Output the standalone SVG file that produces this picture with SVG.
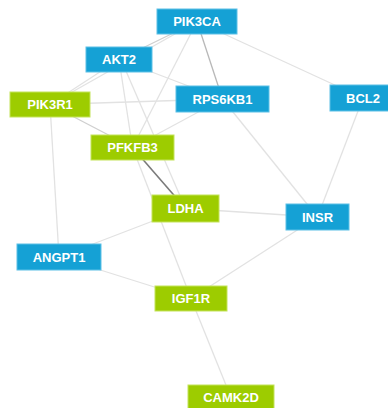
<svg xmlns="http://www.w3.org/2000/svg" width="388" height="408" viewBox="0 0 388 408">
  <style>
    .edge { stroke: #e2e2e2; stroke-width: 1.3; fill: none; }
    .edge.mid { stroke: #cfcfcf; }
    .edge.strong { stroke: #b8b8b8; }
    .edge.dark { stroke: #7a7a7a; stroke-width: 1.6; }
    .blue rect { fill: #15a1d5; stroke: #5cc0e6; stroke-width: 1; }
    .green rect { fill: #9dcc00; stroke: #c4e35a; stroke-width: 1; }
    text { font-family: "Liberation Sans", Arial, sans-serif; font-weight: bold; font-size: 13px; fill: #ffffff; text-anchor: middle; }
  </style>
  <rect width="388" height="408" fill="#ffffff"/>

  <g id="connectors">
    <line class="edge mid" x1="197" y1="21.5" x2="119" y2="59.5"/>
    <line class="edge" x1="197" y1="21.5" x2="50" y2="104.5"/>
    <line class="edge strong" x1="197" y1="21.5" x2="222.5" y2="99"/>
    <line class="edge" x1="197" y1="21.5" x2="363" y2="98"/>
    <line class="edge" x1="197" y1="21.5" x2="132.5" y2="147.5"/>
    <line class="edge" x1="119" y1="59.5" x2="50" y2="104.5"/>
    <line class="edge" x1="119" y1="59.5" x2="222.5" y2="99"/>
    <line class="edge" x1="119" y1="59.5" x2="132.5" y2="147.5"/>
    <line class="edge" x1="121" y1="59.5" x2="185.5" y2="208.5"/>
    <line class="edge" x1="50" y1="104.5" x2="222.5" y2="99"/>
    <line class="edge mid" x1="50" y1="104.5" x2="132.5" y2="147.5"/>
    <line class="edge" x1="50" y1="104.5" x2="59" y2="257"/>
    <line class="edge" x1="222.5" y1="99" x2="132.5" y2="147.5"/>
    <line class="edge" x1="222.5" y1="99" x2="317.5" y2="217"/>
    <line class="edge" x1="363" y1="98" x2="317.5" y2="217"/>
    <line class="edge dark" x1="132.5" y1="147.5" x2="185.5" y2="208.5"/>
    <line class="edge" x1="132.5" y1="147.5" x2="191" y2="298.5"/>
    <line class="edge" x1="185.5" y1="208.5" x2="317.5" y2="217"/>
    <line class="edge" x1="185.5" y1="208.5" x2="59" y2="257"/>
    <line class="edge" x1="59" y1="257" x2="191" y2="298.5"/>
    <line class="edge" x1="317.5" y1="217" x2="191" y2="298.5"/>
    <line class="edge" x1="191" y1="298.5" x2="231" y2="397.5"/>
  </g>

  <g id="PIK3CA" class="blue"><rect x="157" y="9" width="80" height="25"/><text x="197" y="26">PIK3CA</text></g>
  <g id="AKT2" class="blue"><rect x="86" y="47" width="66" height="25"/><text x="119" y="64">AKT2</text></g>
  <g id="PIK3R1" class="green"><rect x="10" y="92" width="80" height="25"/><text x="50" y="109">PIK3R1</text></g>
  <g id="RPS6KB1" class="blue"><rect x="176" y="86" width="93" height="26"/><text x="222.5" y="103.5">RPS6KB1</text></g>
  <g id="BCL2" class="blue"><rect x="330" y="85" width="66" height="26"/><text x="363" y="102.5">BCL2</text></g>
  <g id="PFKFB3" class="green"><rect x="91" y="135" width="83" height="25"/><text x="132.5" y="152">PFKFB3</text></g>
  <g id="LDHA" class="green"><rect x="152" y="195" width="67" height="27"/><text x="185.5" y="213">LDHA</text></g>
  <g id="INSR" class="blue"><rect x="286" y="204" width="63" height="26"/><text x="317.5" y="221.5">INSR</text></g>
  <g id="ANGPT1" class="blue"><rect x="17" y="244" width="84" height="26"/><text x="59" y="261.5">ANGPT1</text></g>
  <g id="IGF1R" class="green"><rect x="155" y="286" width="72" height="25"/><text x="191" y="303">IGF1R</text></g>
  <g id="CAMK2D" class="green"><rect x="188" y="385" width="86" height="25"/><text x="231" y="402">CAMK2D</text></g>
</svg>
